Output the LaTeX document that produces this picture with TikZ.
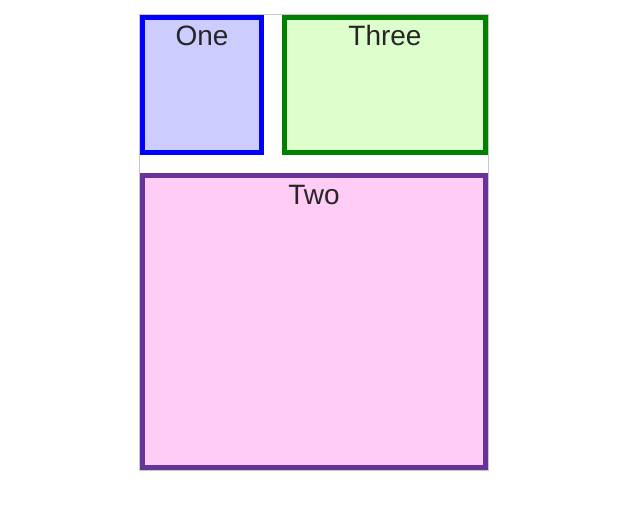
\documentclass[tikz,border=0pt]{standalone}
\usepackage{fontspec}
\setmainfont{Liberation Sans}
\definecolor{onefill}{HTML}{CCCCFF}
\definecolor{oneline}{HTML}{0000FF}
\definecolor{threefill}{HTML}{DDFFCC}
\definecolor{threeline}{HTML}{008000}
\definecolor{twofill}{HTML}{FFCCF5}
\definecolor{twoline}{HTML}{663399}
\definecolor{frame}{HTML}{C8C8C8}
\begin{document}
\begin{tikzpicture}[x=1pt,y=-1pt,
  panel/.style={rectangle, line width=5pt, inner sep=0pt},
  lbl/.style={anchor=base, inner sep=0pt, font=\fontsize{28}{32}\selectfont, text=black!85}]
\useasboundingbox (0,0) rectangle (630,520);
\fill[white] (0,0) rectangle (630,520);
\node[draw=frame, line width=1pt, minimum width=349pt, minimum height=456pt, inner sep=0pt] (container) at (314,242.5) {};
\node[panel, draw=oneline, fill=onefill, minimum width=119pt, minimum height=135pt] (one) at (202,85) {};
\node[panel, draw=threeline, fill=threefill, minimum width=201pt, minimum height=135pt] (three) at (385,85) {};
\node[panel, draw=twoline, fill=twofill, minimum width=343pt, minimum height=292pt] (two) at (314,321.5) {};
\node[lbl] (onet) at (202,45.5) {One};
\node[lbl] (threet) at (385,45.5) {Three};
\node[lbl] (twot) at (314,204) {Two};
\end{tikzpicture}
\end{document}
